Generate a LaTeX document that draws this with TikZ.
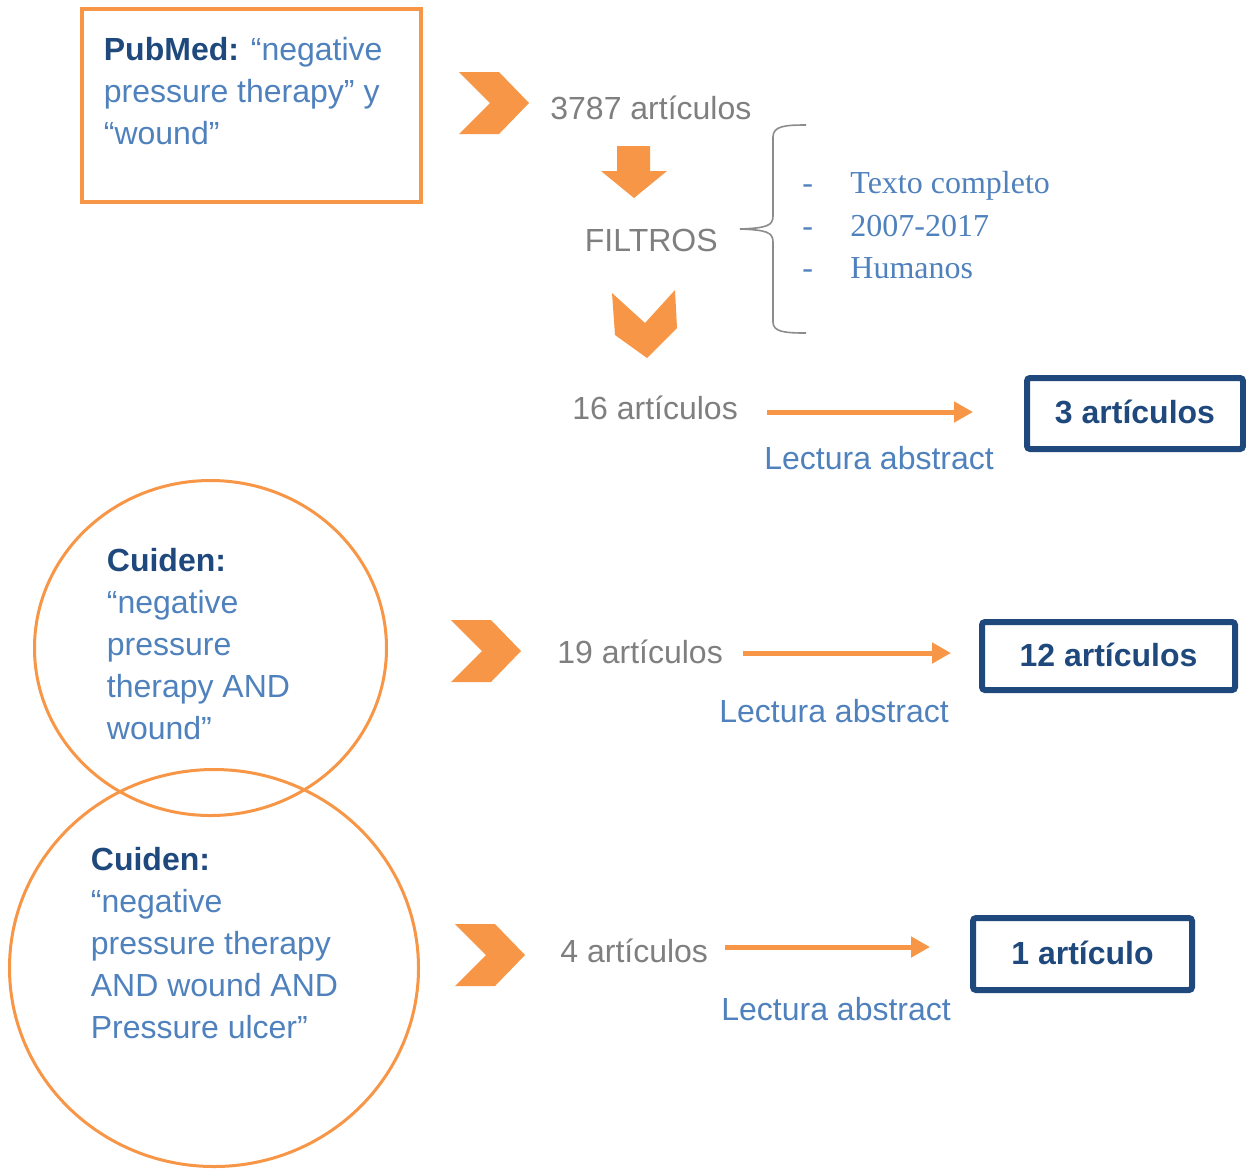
\documentclass[tikz,border=0pt]{standalone}
\usepackage{fontspec}
\setmainfont{Liberation Sans}
\newfontfamily\listfont{Liberation Serif}
\usetikzlibrary{arrows.meta,positioning,calc,shapes.geometric}
\definecolor{orng}{HTML}{F79646}
\definecolor{lblue}{HTML}{4F81BD}
\definecolor{dblue}{HTML}{1F497D}
\definecolor{txtgray}{HTML}{7F7F7F}
\tikzset{
  every node/.append style={font=\fontsize{16}{21}\selectfont, inner sep=0pt},
  chev/.pic={\fill[orng] (0,0) -- (40,0) -- (70,31) -- (40,62) -- (0,62) -- (31,31) -- cycle;},
}

\begin{document}
\begin{tikzpicture}[
  x=0.5pt, y=-0.5pt,
  count/.style={text=txtgray, anchor=base west},
  note/.style={text=lblue, anchor=base west},
  crit/.style={text=lblue, anchor=base west, font=\fontsize{16}{21}\listfont},
  query/.style={text=lblue, align=left, anchor=north west},
  result/.style={draw=dblue, line width=3pt, rounded corners=1.5pt, text=dblue, font=\fontsize{16}{21}\selectfont\bfseries},
  ring/.style={ellipse, draw=orng, line width=1.5pt},
  arr/.style={-{Triangle[length=9.5pt,width=10pt]}, line width=2.5pt, draw=orng}
]
\useasboundingbox (0,0) rectangle (1246,1169);

% Row 1: PubMed search
\node[draw=orng, line width=2pt, minimum width=169.5pt, minimum height=96.5pt] (pm) at (251.5,105.5) {};
\node[query] (pmtxt) at (103.5,36.5) {{\bfseries\color{dblue}PubMed:} “negative\\pressure therapy” y\\“wound”};
\pic at (459,72) {chev};
\node[count] (n3787) at (550,119) {3787 artículos};

% Filters
\fill[orng] (617,146) -- (650,146) -- (650,171) -- (667,171) -- (634,198) -- (601,171) -- (617,171) -- cycle;
\node[count] (filt) at (584.5,251) {FILTROS};
\draw[txtgray!90, line width=0.8pt] (806,125) .. controls (785,125) and (773,126) .. (773,137) -- (773,216)
  .. controls (773,226) and (766,228) .. (740,229) .. controls (766,230) and (773,232) .. (773,242)
  -- (773,322) .. controls (773,332) and (785,333) .. (806,333);
\foreach \c [count=\i] in {Texto completo, 2007-2017, Humanos} {
  \node[crit] (dash\i) at ({802},{151+42.5*\i}) {-};
  \node[crit] (crit\i) at ({850},{151+42.5*\i}) {\c};
}
\fill[orng] (612,293) -- (645,323) -- (675,290) -- (677,328) -- (647,358) -- (615,335) -- cycle;

% Row 2: PubMed result
\node[count] (n16) at (572,419.5) {16 artículos};
\node[result, minimum width=108pt, minimum height=35.5pt] (box3) at (1135,413.5) {\raisebox{1.5pt}{3 artículos}};
\draw[arr, shorten <=14.5pt, shorten >=25.5pt] ($(n16.base east)+(0,-7.5)$) -- ($(box3.west |- n16.base east)+(0,-7.5)$);
\node[note] (lec1) at (764,469) {Lectura abstract};

% Row 3: Cuiden, first search
\node[ring, minimum width=176pt, minimum height=167.5pt] (cd1) at (210.5,648) {};
\node[query] (cd1txt) at (106.5,547.5) {{\bfseries\color{dblue}Cuiden:}\\“negative\\pressure\\therapy AND\\wound”};
\pic at (451,620) {chev};
\node[count] (n19) at (557,663) {19 artículos};
\node[result, minimum width=126.5pt, minimum height=34pt] (box12) at (1108.5,656) {\raisebox{1.5pt}{12 artículos}};
\draw[arr, shorten <=10pt, shorten >=14pt] ($(n19.base east)+(0,-10)$) -- ($(box12.west |- n19.base east)+(0,-10)$);
\node[note] (lec2) at (719,722) {Lectura abstract};

% Row 4: Cuiden, second search
\node[ring, minimum width=204.5pt, minimum height=198.5pt] (cd2) at (214,968) {};
\node[query] (cd2txt) at (90.5,847) {{\bfseries\color{dblue}Cuiden:}\\“negative\\pressure therapy\\AND wound AND\\Pressure ulcer”};
\pic at (455,924) {chev};
\node[count] (n4) at (560,962) {4 artículos};
\node[result, minimum width=109.5pt, minimum height=36pt] (box1) at (1082.5,954) {\raisebox{1.5pt}{1 artículo}};
\draw[arr, shorten <=8.5pt, shorten >=20pt] ($(n4.base east)+(0,-15)$) -- ($(box1.west |- n4.base east)+(0,-15)$);
\node[note] (lec3) at (721,1020) {Lectura abstract};

\end{tikzpicture}
\end{document}
